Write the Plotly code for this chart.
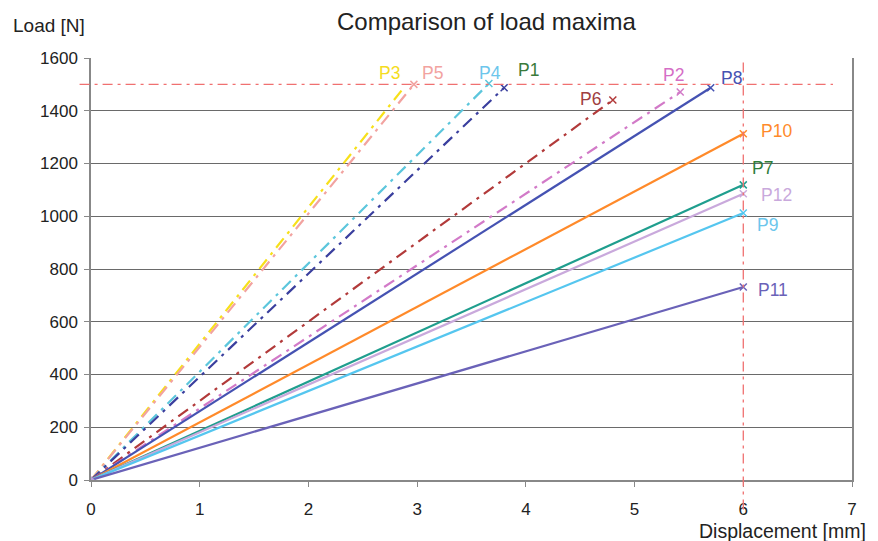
import plotly.graph_objects as go

# Series: name, end displacement [mm], end load [N]
names = ["P3", "P5", "P4", "P1", "P6", "P2", "P8", "P10", "P7", "P12", "P9", "P11"]
end_disp = [2.89, 2.97, 3.66, 3.80, 4.80, 5.42, 5.70, 6.0, 6.0, 6.0, 6.0, 6.0]
end_load = [1494, 1500, 1503, 1487, 1441, 1471, 1487, 1313, 1119, 1085, 1012, 732]
line_colors = ["#f7e01a", "#f2a3a0", "#5cc6dc", "#3a3f9e", "#b23a3a", "#d27ac8",
               "#4552b2", "#ff8a2a", "#1f9e8e", "#c9a9dc", "#55c6ef", "#6a62b8"]
label_colors = ["#f5dc20", "#f2a3a0", "#6cc6ec", "#3a7a3a", "#a04040", "#d56ec6",
                "#4552b2", "#ff8a2a", "#2e7d3a", "#c9a9dc", "#6cc6ec", "#6a62b8"]
dashes = ["12px,6px,3px,6px"] * 6 + ["solid"] * 6
show_marker = [False, True, True, True, True, True, True, True, True, True, True, True]

# Label positions (data coordinates)
label_x = [2.75, 3.14, 3.67, 4.02, 4.59, 5.36, 5.89, 6.31, 6.18, 6.31, 6.22, 6.27]
label_y = [1543, 1543, 1543, 1555, 1445, 1536, 1524, 1323, 1183, 1081, 967, 720]

# Reference limits
limit_load = 1500
limit_disp = 6

x_ticks = [0, 1, 2, 3, 4, 5, 6, 7]
y_ticks = [0, 200, 400, 600, 800, 1000, 1200, 1400, 1600]

fig = go.Figure()
for i, n in enumerate(names):
    fig.add_trace(go.Scatter(
        x=[0, end_disp[i]], y=[0, end_load[i]], mode="lines",
        line=dict(color=line_colors[i], width=2.2, dash=dashes[i]),
        showlegend=False, hoverinfo="skip"))
    if show_marker[i]:
        fig.add_trace(go.Scatter(
            x=[end_disp[i]], y=[end_load[i]], mode="markers",
            marker=dict(symbol="x-thin", size=7, line=dict(color=line_colors[i], width=1.5)),
            showlegend=False, hoverinfo="skip"))
    fig.add_annotation(x=label_x[i], y=label_y[i], text=n, showarrow=False,
                       font=dict(size=17.5, color=label_colors[i]))

# origin marker
fig.add_trace(go.Scatter(x=[0], y=[0], mode="markers",
                         marker=dict(symbol="diamond", size=6, color="#b8a0d8"),
                         showlegend=False, hoverinfo="skip"))

fig.add_shape(type="line", xref="paper", yref="y", x0=-0.015, x1=0.975,
              y0=limit_load, y1=limit_load,
              line=dict(color="#f07070", width=1.3, dash="10px,5px,3px,5px"))
fig.add_shape(type="line", xref="x", yref="paper", x0=limit_disp, x1=limit_disp,
              y0=-0.07, y1=1.0,
              line=dict(color="#f07070", width=1.3, dash="10px,5px,3px,5px"))

fig.update_layout(
    width=862, height=533,
    margin=dict(l=83, r=18, t=50, b=61),
    paper_bgcolor="white", plot_bgcolor="white",
    font=dict(family="Liberation Sans", size=17, color="#222222"),
    title=dict(text="Comparison of load maxima", x=0.555, xanchor="center",
               y=0.974, yanchor="middle", font=dict(size=24, color="#222222")),
    xaxis=dict(range=[0, 7], tickvals=x_ticks, showgrid=False, zeroline=False,
               showline=True, linecolor="#888888", linewidth=1.5, mirror=False,
               ticks="outside", ticklen=5, tickcolor="#888888",
               ticklabelstandoff=8,
               tickfont=dict(size=17, color="#222222")),
    yaxis=dict(range=[0, 1600], tickvals=y_ticks, showgrid=True,
               gridcolor="#6a6a6a", gridwidth=1.2, zeroline=False,
               showline=True, linecolor="#888888", linewidth=1.5, mirror=True,
               ticks="outside", ticklen=5, tickcolor="#888888",
               ticklabelstandoff=3,
               tickfont=dict(size=17, color="#222222")),
)

fig.add_annotation(x=0, y=1, xref="paper", yref="paper", xshift=-80, yshift=45,
                   xanchor="left", yanchor="top", text="Load [N]", showarrow=False,
                   font=dict(size=19, color="#222222"))
fig.add_annotation(x=1, y=0, xref="paper", yref="paper", xshift=16, yshift=-38,
                   xanchor="right", yanchor="top", text="Displacement [mm]", showarrow=False,
                   font=dict(size=19.5, color="#222222"))

fig.write_html("out.html")
